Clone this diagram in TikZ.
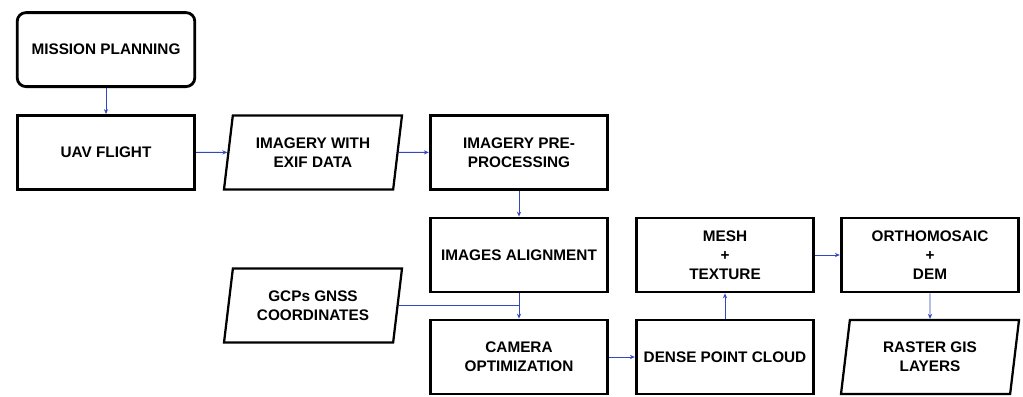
\documentclass[tikz,border=0pt]{standalone}
\usepackage{fontspec}
\setmainfont{Liberation Sans}
\usepackage{tikz}
\usetikzlibrary{shapes.geometric, arrows.meta}
\definecolor{flowblue}{RGB}{52,72,190}

\begin{document}
\begin{tikzpicture}[
    every node/.style={font=\fontsize{10.9}{13.6}\selectfont\bfseries, align=center},
    stepbox/.style={draw, line width=2pt, minimum width=4.44cm, minimum height=1.85cm, inner sep=2pt},
    startbox/.style={stepbox, rounded corners=0.22cm},
    databox/.style={trapezium, trapezium left angle=76, trapezium right angle=104,
      trapezium stretches body, draw, line width=1.6pt, minimum width=4.45cm, minimum height=1.85cm, inner sep=2pt},
    flow/.style={draw=flowblue, line width=0.6pt, -{Stealth[length=3.5pt, width=3pt]}}
  ]
  \useasboundingbox (0,0) rectangle (25.575,9.9);

  % first row
  \node[startbox] (mission) at (2.65,8.66) {MISSION PLANNING};
  \node[stepbox] (uav) at (2.65,6.09) {UAV FLIGHT};
  \node[databox] (exif) at (7.825,6.09) {IMAGERY WITH\\EXIF DATA};
  \node[stepbox] (preproc) at (12.975,6.09) {IMAGERY PRE-\\PROCESSING};

  % processing chain
  \node[stepbox] (align) at (12.975,3.525) {IMAGES ALIGNMENT};
  \node[databox] (gcp) at (7.825,2.26) {GCPs GNSS\\COORDINATES};
  \node[stepbox] (camera) at (12.975,0.975) {CAMERA\\OPTIMIZATION};
  \node[stepbox] (dense) at (18.125,0.975) {DENSE POINT CLOUD};
  \node[stepbox] (mesh) at (18.125,3.525) {MESH\\+\\TEXTURE};
  \node[stepbox] (ortho) at (23.25,3.525) {ORTHOMOSAIC\\+\\DEM};
  \node[databox] (raster) at (23.25,0.975) {RASTER GIS\\LAYERS};

  \coordinate (gcpjoin) at (align.south |- gcp.east);

  \draw[flow] (mission) -- (uav);
  \draw[flow] (uav) -- (exif);
  \draw[flow] (exif) -- (preproc);
  \draw[flow] (preproc) -- (align);
  \draw[flow] (align) -- (camera);
  \draw[flow, -] (gcp.east) -- (gcpjoin);
  \draw[flow] (camera) -- (dense);
  \draw[flow] (dense) -- (mesh);
  \draw[flow] (mesh) -- (ortho);
  \draw[flow] (ortho) -- (raster);
\end{tikzpicture}
\end{document}
